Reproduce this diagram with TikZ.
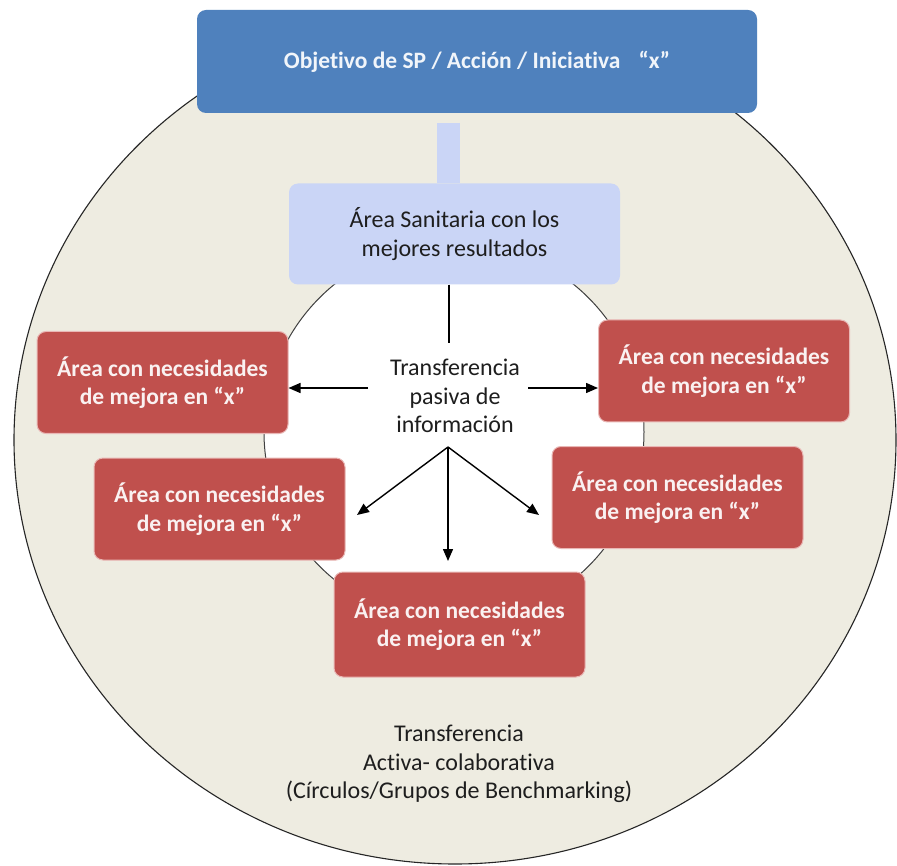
\documentclass[tikz,border=0pt]{standalone}
\usepackage{fontspec}
\setmainfont{Carlito}[Ligatures={NoCommon}]
\usetikzlibrary{arrows.meta}
\definecolor{tanbg}{HTML}{EEECE1}
\definecolor{topblue}{HTML}{4F81BD}
\definecolor{paleblue}{HTML}{CAD5F6}
\definecolor{areared}{HTML}{C0504D}
\definecolor{redrim}{HTML}{E9B7B5}
\definecolor{ink}{HTML}{1E1E1E}

\begin{document}
\begin{tikzpicture}[x=1pt,y=-1pt,
  box/.style={rectangle, rounded corners=9pt, align=center, inner sep=0pt},
  areabox/.style={box, fill=areared, draw=redrim, line width=1pt,
    text=white!92!areared, font=\bfseries\fontsize{23.5}{28.5}\selectfont,
    minimum width=251pt, minimum height=102pt},
  lbl/.style={align=center, text=ink, font=\fontsize{24}{28.7}\selectfont},
  arr/.style={-{Triangle[length=12pt,width=10pt]}, line width=1.4pt, black}
]
\fill[white] (0,0) rectangle (897,866);
\useasboundingbox (0,0) rectangle (897,866);

% outer ring: active, collaborative transfer
\draw[fill=tanbg, draw=black!85, line width=1.1pt] (455,440) ellipse [x radius=441pt, y radius=424pt];
% inner disc: passive transfer
\draw[fill=white, draw=black!75, line width=1pt] (454,432) circle [radius=190pt];

% objective
\node[box, fill=topblue, minimum width=560pt, minimum height=103pt,
      text=white!92!topblue, font=\bfseries\fontsize{23.5}{28}\selectfont]
  (goal) at (477,61.5) {Objetivo de SP / Acción / Iniciativa\hspace{18pt}“x”};

% link bar down to the best area
\coordinate (barTop) at (448.5,123);
\node[box, fill=paleblue, minimum width=331pt, minimum height=101pt,
      text=ink, font=\fontsize{24}{28.5}\selectfont]
  (best) at (454.5,234) {Área Sanitaria con los\\mejores resultados};
\draw[paleblue, line width=23pt] (barTop) -- (barTop |- best.north);

% areas with room for improvement
\node[areabox] (nw) at (162.5,382.5) {Área con necesidades\\de mejora en “x”};
\node[areabox] (sw) at (219.5,509)   {Área con necesidades\\de mejora en “x”};
\node[areabox] (ne) at (724,371)     {Área con necesidades\\de mejora en “x”};
\node[areabox] (se) at (677.5,497.5) {Área con necesidades\\de mejora en “x”};
\node[areabox, minimum height=105pt] (so) at (459.5,624.5) {Área con necesidades\\de mejora en “x”};

% labels
\node[lbl] (pasiva) at (455,396) {Transferencia\\pasiva de\\información};
\node[lbl] (activa) at (459,764) {Transferencia\\Activa- colaborativa\\(Círculos/Grupos de Benchmarking)};

% passive flow
\coordinate (vTop)   at (449,343);
\coordinate (wStart) at (368,388);
\coordinate (eStart) at (528,388);
\coordinate (fork)   at (448,447);
\coordinate (swEnd)  at (357,515);
\coordinate (sEnd)   at (448,561);
\coordinate (seEnd)  at (539,515);
\draw[line width=1.4pt] (best.south -| vTop) -- (vTop);
\draw[arr] (wStart) -- (nw.east |- wStart);
\draw[arr] (eStart) -- (ne.west |- eStart);
\draw[arr] (fork) -- (swEnd);
\draw[arr] (fork) -- (sEnd);
\draw[arr] (fork) -- (seEnd);
\end{tikzpicture}
\end{document}
